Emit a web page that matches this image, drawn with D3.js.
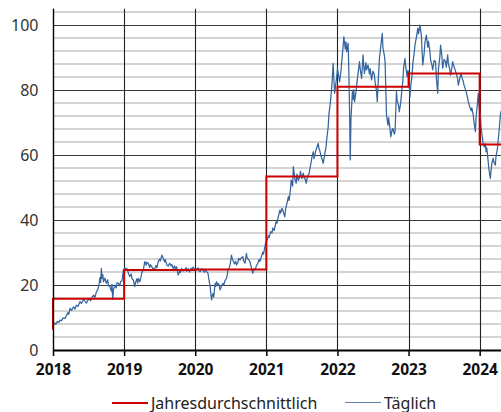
<!DOCTYPE html>
<html>
<head>
<meta charset="utf-8">
<script src="https://cdn.jsdelivr.net/npm/d3@7"></script>
<style>
  body { margin: 0; background: #fff; }
  svg { display: block; }
</style>
</head>
<body>
<svg id="chart" width="501" height="412"></svg>
<script>
// Jahresdurchschnitt (Wert am Ende der Stufe), erstes Element = Startwert links
var avgStart = 6.2,
    avgYears = [2019, 2020, 2021, 2022, 2023, 2024, 2024.3],
    avgValues = [15.8, 24.6, 24.8, 53.4, 81.0, 85.1, 63.2];

var yearTicks = [2018, 2019, 2020, 2021, 2022, 2023, 2024],
    yTicks = [0, 20, 40, 60, 80, 100];

// tägliche Werte (Jahr als Dezimalzahl, Wert)
var daily2018 = [[2018.00,7.4],[2018.02,8.3],[2018.04,7.9],[2018.06,8.8],[2018.08,8.5],[2018.10,9.2],[2018.12,9.0],[2018.14,9.8],[2018.17,9.7],[2018.19,10.6],[2018.21,11.5],[2018.22,11.0],[2018.24,12.8],[2018.26,12.2],[2018.29,13.3],[2018.31,12.6],[2018.33,13.8],[2018.35,13.4],[2018.38,14.9],[2018.40,14.3],[2018.43,15.6],[2018.45,15.0],[2018.47,14.4],[2018.49,15.3],[2018.51,15.8],[2018.53,15.2],[2018.55,16.3],[2018.57,16.9],[2018.59,16.2],[2018.61,17.9],[2018.63,18.6],[2018.65,20.5],[2018.66,22.3],[2018.67,20.8],[2018.68,25.1],[2018.69,22.0],[2018.70,23.2],[2018.71,21.0],[2018.73,22.1],[2018.75,20.5],[2018.77,21.6],[2018.78,19.8],[2018.80,19.5],[2018.82,18.1],[2018.83,20.2],[2018.84,15.6],[2018.85,18.4],[2018.87,20.0],[2018.89,19.1],[2018.90,20.7],[2018.92,20.5],[2018.94,19.8],[2018.95,21.0],[2018.97,21.3],[2018.99,24.6]];
var daily2019 = [[2019.01,25.3],[2019.03,24.8],[2019.04,25.1],[2019.06,23.6],[2019.08,22.6],[2019.10,23.4],[2019.11,22.0],[2019.13,21.5],[2019.15,19.5],[2019.16,20.8],[2019.18,21.9],[2019.19,20.6],[2019.20,22.0],[2019.22,21.0],[2019.24,22.8],[2019.25,23.9],[2019.27,24.6],[2019.29,27.2],[2019.31,26.1],[2019.32,27.0],[2019.34,26.7],[2019.36,25.4],[2019.37,26.3],[2019.39,25.6],[2019.41,24.9],[2019.43,25.1],[2019.45,26.0],[2019.46,25.3],[2019.48,27.2],[2019.50,28.0],[2019.51,27.4],[2019.53,29.2],[2019.55,28.2],[2019.57,27.1],[2019.58,27.8],[2019.60,26.2],[2019.62,25.8],[2019.64,26.7],[2019.66,25.9],[2019.67,26.3],[2019.69,25.1],[2019.71,25.9],[2019.72,24.8],[2019.74,25.6],[2019.76,23.1],[2019.78,24.2],[2019.79,23.8],[2019.81,25.1],[2019.83,24.3],[2019.85,24.6],[2019.87,25.4],[2019.88,24.2],[2019.90,25.1],[2019.92,24.0],[2019.94,25.2],[2019.95,24.6],[2019.97,25.5],[2019.99,24.9]];
var daily2020 = [[2020.01,25.0],[2020.02,24.6],[2020.04,25.3],[2020.05,24.4],[2020.07,24.1],[2020.09,25.0],[2020.11,24.6],[2020.13,23.9],[2020.14,24.8],[2020.16,24.1],[2020.18,23.6],[2020.19,22.0],[2020.21,19.5],[2020.22,17.2],[2020.23,15.4],[2020.24,16.8],[2020.25,17.4],[2020.26,16.3],[2020.28,20.5],[2020.29,19.6],[2020.30,21.0],[2020.32,19.8],[2020.33,20.4],[2020.35,18.5],[2020.37,19.6],[2020.39,20.5],[2020.40,19.9],[2020.42,21.4],[2020.44,22.0],[2020.45,23.1],[2020.46,24.6],[2020.48,25.4],[2020.49,26.2],[2020.51,29.2],[2020.52,28.1],[2020.53,27.7],[2020.55,26.5],[2020.57,27.3],[2020.58,26.2],[2020.60,26.9],[2020.61,28.2],[2020.63,27.7],[2020.65,28.4],[2020.67,28.7],[2020.68,27.5],[2020.70,26.7],[2020.72,29.7],[2020.73,28.3],[2020.75,27.8],[2020.77,27.2],[2020.79,25.3],[2020.81,23.6],[2020.82,24.9],[2020.84,24.6],[2020.86,25.9],[2020.88,26.7],[2020.90,27.9],[2020.91,27.3],[2020.93,28.7],[2020.95,30.1],[2020.96,29.5],[2020.98,31.8],[2020.99,32.9]];
var daily2021 = [[2021.01,33.8],[2021.03,35.2],[2021.04,34.6],[2021.06,36.4],[2021.08,36.0],[2021.09,37.5],[2021.11,36.8],[2021.12,37.9],[2021.14,39.6],[2021.15,39.0],[2021.17,41.2],[2021.19,43.0],[2021.20,42.1],[2021.22,43.6],[2021.24,42.4],[2021.26,41.0],[2021.27,43.3],[2021.29,45.1],[2021.31,47.2],[2021.32,46.0],[2021.34,49.5],[2021.35,52.3],[2021.37,50.4],[2021.38,56.4],[2021.40,52.8],[2021.42,51.3],[2021.43,54.1],[2021.45,52.2],[2021.47,53.3],[2021.48,55.0],[2021.50,52.7],[2021.52,54.4],[2021.53,53.1],[2021.55,52.4],[2021.56,51.3],[2021.58,53.6],[2021.60,54.2],[2021.61,55.4],[2021.63,57.8],[2021.64,59.2],[2021.66,61.0],[2021.67,58.9],[2021.69,60.8],[2021.71,62.3],[2021.73,63.6],[2021.74,61.9],[2021.75,61.5],[2021.77,59.6],[2021.79,58.3],[2021.80,57.4],[2021.82,60.2],[2021.84,62.6],[2021.85,65.0],[2021.87,68.7],[2021.88,72.5],[2021.90,76.0],[2021.92,81.0],[2021.93,84.5],[2021.94,88.2],[2021.95,83.0],[2021.96,79.0],[2021.98,82.4],[2021.99,84.0]];
var daily2022 = [[2022.00,86.7],[2022.02,84.0],[2022.03,82.6],[2022.05,85.9],[2022.06,88.7],[2022.08,93.5],[2022.09,96.4],[2022.11,92.6],[2022.12,94.8],[2022.13,91.8],[2022.15,94.4],[2022.16,86.0],[2022.17,74.4],[2022.18,58.5],[2022.19,71.0],[2022.21,79.5],[2022.22,77.2],[2022.23,80.1],[2022.24,76.4],[2022.26,79.3],[2022.27,81.5],[2022.29,85.2],[2022.31,88.7],[2022.32,86.4],[2022.34,83.6],[2022.36,90.8],[2022.37,87.3],[2022.38,85.1],[2022.40,88.4],[2022.41,86.2],[2022.43,87.7],[2022.45,84.9],[2022.46,86.6],[2022.48,83.1],[2022.50,85.8],[2022.52,84.6],[2022.53,82.3],[2022.55,79.6],[2022.56,76.4],[2022.57,81.2],[2022.59,89.7],[2022.61,93.5],[2022.63,97.4],[2022.64,93.0],[2022.66,90.6],[2022.67,88.7],[2022.68,80.4],[2022.69,72.3],[2022.71,69.2],[2022.72,71.5],[2022.74,67.8],[2022.75,65.6],[2022.77,67.9],[2022.78,68.2],[2022.80,66.4],[2022.81,67.2],[2022.83,79.5],[2022.84,76.8],[2022.86,75.1],[2022.87,73.3],[2022.89,76.2],[2022.90,78.5],[2022.92,83.0],[2022.93,86.8],[2022.95,89.7],[2022.96,87.2],[2022.98,84.1],[2022.99,86.0]];
var daily2023 = [[2023.00,85.5],[2023.02,77.9],[2023.03,81.0],[2023.05,84.6],[2023.06,88.2],[2023.08,91.5],[2023.09,93.8],[2023.11,96.2],[2023.13,99.0],[2023.14,97.3],[2023.16,100.0],[2023.17,98.4],[2023.18,96.9],[2023.19,92.0],[2023.20,87.7],[2023.22,91.4],[2023.23,94.6],[2023.25,96.9],[2023.27,93.2],[2023.28,95.0],[2023.30,91.8],[2023.31,89.3],[2023.33,87.5],[2023.34,86.2],[2023.36,89.1],[2023.38,88.7],[2023.39,84.0],[2023.41,79.0],[2023.42,86.3],[2023.44,90.2],[2023.45,93.8],[2023.47,90.1],[2023.48,86.7],[2023.50,89.4],[2023.52,88.7],[2023.53,87.0],[2023.55,90.8],[2023.56,88.1],[2023.58,86.3],[2023.59,84.6],[2023.61,86.9],[2023.62,88.7],[2023.64,87.2],[2023.66,85.8],[2023.67,85.1],[2023.69,83.4],[2023.70,81.5],[2023.72,83.6],[2023.74,85.1],[2023.75,83.8],[2023.77,82.6],[2023.78,81.5],[2023.80,80.2],[2023.81,79.5],[2023.83,77.6],[2023.84,76.4],[2023.86,74.9],[2023.88,73.6],[2023.89,74.5],[2023.91,72.3],[2023.92,70.1],[2023.94,67.2],[2023.95,71.6],[2023.97,76.3],[2023.98,79.0],[2023.99,75.4]];
var daily2024 = [[2024.01,72.3],[2024.02,68.5],[2024.04,65.0],[2024.05,63.1],[2024.07,62.4],[2024.08,63.5],[2024.09,61.0],[2024.10,62.2],[2024.12,57.9],[2024.13,55.6],[2024.15,52.8],[2024.16,55.1],[2024.17,57.3],[2024.19,59.0],[2024.20,57.8],[2024.22,56.9],[2024.23,59.6],[2024.25,62.0],[2024.26,64.4],[2024.28,69.2],[2024.29,72.0],[2024.30,73.5]];

var svg = d3.select("#chart"),
    plotLeft = 53, plotRight = 501, plotBottom = 350, plotTop = 8.75,
    red = "#cc0000",
    blue = "#34659f";

var x = d3.scaleLinear().domain([2018, 2024.3]).range([plotLeft, plotRight]),
    y = d3.scaleLinear().domain([0, 105]).range([plotBottom, plotTop]);

var daily = [].concat(daily2018, daily2019, daily2020, daily2021, daily2022, daily2023, daily2024);

// feine Gitterlinien alle 4
var minor = d3.range(4, 105, 4).filter(function (v) { return v % 20 !== 0; });
svg.append("g").selectAll("line").data(minor).enter().append("line")
    .attr("x1", plotLeft).attr("x2", plotRight)
    .attr("y1", function (d) { return y(d); }).attr("y2", function (d) { return y(d); })
    .attr("stroke", "#c6c6c6").attr("stroke-width", 1.6);

svg.append("g").selectAll("line").data(yTicks.slice(1)).enter().append("line")
    .attr("x1", plotLeft).attr("x2", plotRight)
    .attr("y1", function (d) { return Math.round(y(d)) + 0.5; })
    .attr("y2", function (d) { return Math.round(y(d)) + 0.5; })
    .attr("stroke", "#3a3a3a").attr("stroke-width", 1);

// vertikale Jahreslinien
svg.append("g").selectAll("line").data(yearTicks).enter().append("line")
    .attr("x1", function (d) { return Math.round(x(d)) + 0.5; })
    .attr("x2", function (d) { return Math.round(x(d)) + 0.5; })
    .attr("y1", plotTop).attr("y2", plotBottom)
    .attr("stroke", "#222").attr("stroke-width", 1.1);

// Tageswerte
var line = d3.line()
    .x(function (d) { return x(d[0]); })
    .y(function (d) { return y(d[1]); });

svg.append("path")
    .datum(daily)
    .attr("fill", "none")
    .attr("stroke", blue)
    .attr("stroke-width", 1.25)
    .attr("stroke-linejoin", "round")
    .attr("d", line);

// Jahresdurchschnitt als Stufen
var steps = [[2018, avgStart]].concat(avgYears.map(function (yr, i) { return [yr, avgValues[i]]; }));
svg.append("path")
    .datum(steps)
    .attr("fill", "none")
    .attr("stroke", red)
    .attr("stroke-width", 2)
    .attr("d", line.curve(d3.curveStepBefore));

// x-Achse
var xAxis = svg.append("g")
    .attr("transform", "translate(0," + plotBottom + ")")
    .call(d3.axisBottom(x).tickValues(yearTicks).tickFormat(d3.format("d")).tickSize(6).tickSizeOuter(0));
xAxis.select(".domain").attr("stroke", "#000").attr("stroke-width", 2);
xAxis.selectAll(".tick line").attr("stroke", "#000").attr("stroke-width", 1.5);
xAxis.selectAll(".tick text")
    .attr("y", 14)
    .attr("dy", "0.71em")
    .style("font-family", "'Noto Sans', sans-serif")
    .style("font-size", "15.5px")
    .style("font-weight", "bold")
    .attr("fill", "#111");

// y-Achse
svg.append("line")
    .attr("x1", plotLeft + 0.5).attr("x2", plotLeft + 0.5)
    .attr("y1", plotTop).attr("y2", plotBottom)
    .attr("stroke", "#000").attr("stroke-width", 1.3);

svg.append("g").selectAll("text").data(yTicks).enter().append("text")
    .attr("x", 38.5)
    .attr("y", function (d) { return y(d); })
    .attr("dy", "0.36em")
    .attr("text-anchor", "end")
    .style("font-family", "'Noto Sans', sans-serif")
    .style("font-size", "16px")
    .attr("fill", "#333")
    .text(function (d) { return d; });

// Legende
var legend = svg.append("g").style("font-family", "'Noto Sans', sans-serif").style("font-size", "16px");
legend.append("line").attr("x1", 112).attr("x2", 148).attr("y1", 403).attr("y2", 403)
    .attr("stroke", red).attr("stroke-width", 2);
legend.append("text").attr("x", 151).attr("y", 408.5).attr("fill", "#222").text("Jahresdurchschnittlich");
legend.append("line").attr("x1", 345).attr("x2", 381).attr("y1", 402.5).attr("y2", 402.5)
    .attr("stroke", "#5f7fa8").attr("stroke-width", 1.2);
legend.append("text").attr("x", 384).attr("y", 408.5).attr("fill", "#222").text("Täglich");
</script>
</body>
</html>
